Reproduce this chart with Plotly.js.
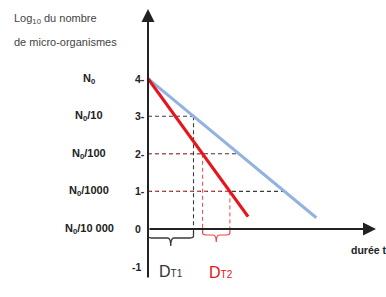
<!DOCTYPE html>
<html><head><meta charset="utf-8">
<script src="https://cdn.plot.ly/plotly-3.0.1.min.js"></script>
<style>body{margin:0;background:#fff}#c{width:386px;height:297px}</style>
</head><body><div id="c"></div>
<script>
// ---- data ----
const logLevels   = [4, 3, 2, 1, 0, -1];
const tickLabels  = ['4-', '3-', '2-', '1-', '0', '-1'];
const popLabels   = ['N<sub>0</sub>', 'N<sub>0</sub>/10', 'N<sub>0</sub>/100', 'N<sub>0</sub>/1000', 'N<sub>0</sub>/10 000'];
const blueTime    = [0, 3.7];
const blueLog     = [4, 0.3];
const redTime     = [0, 2.2];
const redLog      = [4, 0.33];
const guideLevels = [3, 2, 1];
const blueCross   = [1, 2, 3];     // time where the blue line reaches 3, 2, 1
const redCross    = [0.6, 1.2, 1.8]; // time where the red line reaches 3, 2, 1

// ---- pixel <-> data helpers (layout only) ----
const W = 386, H = 297, X0 = 148, PXT = 45.5, Y0 = 229, PXV = 37.6;
const t = px => (px - X0) / PXT;
const v = py => (Y0 - py) / PXV;

const traces = [];
const dark = '#3a3a3a', red = '#e8141b', blue = '#93b2e2', redDash = '#e8454a';
guideLevels.forEach((lv, i) => {
  traces.push({x: [0, blueCross[i]], y: [lv, lv], mode: 'lines', line: {color: dark, width: 1.1, dash: '4px,3px'}, hoverinfo: 'skip'});
});
guideLevels.slice(1).forEach((lv, k) => {
  const i = k + 1;
  traces.push({x: [0, redCross[i]], y: [lv, lv], mode: 'lines', line: {color: redDash, width: 1, dash: '3px,4px'}, hoverinfo: 'skip'});
  traces.push({x: [redCross[i], redCross[i]], y: [lv, v(229)], mode: 'lines', line: {color: redDash, width: 1, dash: '4px,3px'}, hoverinfo: 'skip'});
});
traces.push({x: [blueCross[0], blueCross[0]], y: [guideLevels[0], v(232)], mode: 'lines', line: {color: dark, width: 1.1, dash: '4px,3px'}, hoverinfo: 'skip'});
traces.push({x: blueTime, y: blueLog, mode: 'lines', line: {color: blue, width: 3}, hoverinfo: 'skip'});
traces.push({x: redTime, y: redLog, mode: 'lines', line: {color: red, width: 3.2}, hoverinfo: 'skip'});

function brace(x1, x2, yTop, yMid, yTip) {
  const xm = (x1 + x2) / 2, r = 0.07;
  return `M ${x1},${yTop} L ${x1},${yMid + 0.05} Q ${x1},${yMid} ${x1 + r},${yMid} L ${xm - r},${yMid} Q ${xm},${yMid} ${xm},${yTip} Q ${xm},${yMid} ${xm + r},${yMid} L ${x2 - r},${yMid} Q ${x2},${yMid} ${x2},${yMid + 0.05} L ${x2},${yTop}`;
}
const shapes = [
  {type: 'path', xref: 'x', yref: 'y', path: brace(0, blueCross[0], v(231), v(238), v(246)), line: {color: dark, width: 1.3}},
  {type: 'path', xref: 'x', yref: 'y', path: brace(redCross[1], redCross[2], v(229), v(235), v(242)), line: {color: redDash, width: 1.2}}
];

const F = 'Liberation Sans, Arial';
const ann = [];
ann.push({x: 0, y: v(9), ax: 0, ay: v(279), xref: 'x', yref: 'y', axref: 'x', ayref: 'y', text: '', showarrow: true, arrowhead: 2, arrowsize: 1.3, arrowwidth: 2, arrowcolor: '#222'});
ann.push({x: t(376), y: 0, ax: 0, ay: 0, xref: 'x', yref: 'y', axref: 'x', ayref: 'y', text: '', showarrow: true, arrowhead: 2, arrowsize: 1.3, arrowwidth: 2, arrowcolor: '#222'});
logLevels.forEach((lv, i) => {
  ann.push({x: t(lv >= 1 ? 146.5 : 143), y: lv, xref: 'x', yref: 'y', text: '<b>' + tickLabels[i] + '</b>', showarrow: false, xanchor: 'right', yanchor: 'middle', font: {family: F, size: 10.5, color: '#222'}});
});
popLabels.forEach((lb, i) => {
  ann.push({x: t(89), y: logLevels[i], xref: 'x', yref: 'y', text: '<b>' + lb + '</b>', showarrow: false, xanchor: 'center', yanchor: 'middle', font: {family: F, size: 11, color: '#222'}});
});
ann.push({x: t(12), y: v(19), xref: 'x', yref: 'y', text: 'Log<sub>10</sub> du nombre', showarrow: false, xanchor: 'left', yanchor: 'middle', font: {family: F, size: 11, color: '#444'}});
ann.push({x: t(12), y: v(42), xref: 'x', yref: 'y', text: 'de micro-organismes', showarrow: false, xanchor: 'left', yanchor: 'middle', font: {family: F, size: 11, color: '#444'}});
ann.push({x: t(349), y: v(250), xref: 'x', yref: 'y', text: '<b>durée t</b>', showarrow: false, xanchor: 'left', yanchor: 'middle', font: {family: F, size: 10.5, color: '#222'}});
ann.push({x: t(157), y: v(271), xref: 'x', yref: 'y', text: 'D<span style="font-size:10px">T1</span>', showarrow: false, xanchor: 'left', yanchor: 'middle', font: {family: F, size: 16, color: '#333'}});
ann.push({x: t(207), y: v(272), xref: 'x', yref: 'y', text: 'D<span style="font-size:10px">T2</span>', showarrow: false, xanchor: 'left', yanchor: 'middle', font: {family: F, size: 16, color: red}});

const layout = {
  width: W, height: H, margin: {l: 0, r: 0, t: 0, b: 0},
  paper_bgcolor: '#fff', plot_bgcolor: '#fff', showlegend: false,
  xaxis: {range: [t(0), t(W)], visible: false, fixedrange: true},
  yaxis: {range: [v(H), v(0)], visible: false, fixedrange: true},
  shapes: shapes, annotations: ann
};
Plotly.newPlot('c', traces, layout, {displayModeBar: false, staticPlot: true});
</script></body></html>
